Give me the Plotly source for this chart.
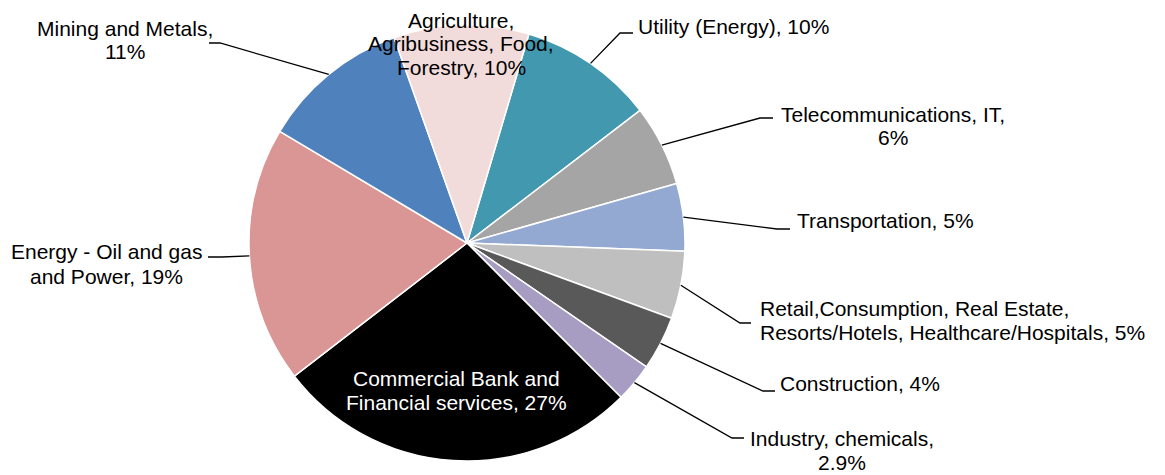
import math
import plotly.graph_objects as go

# ---- data ----
sectors = [
    "Utility (Energy)",
    "Telecommunications, IT",
    "Transportation",
    "Retail,Consumption, Real Estate, Resorts/Hotels, Healthcare/Hospitals",
    "Construction",
    "Industry, chemicals",
    "Commercial Bank and Financial services",
    "Energy - Oil and gas and Power",
    "Mining and Metals",
    "Agriculture, Agribusiness, Food, Forestry",
]
shares = [10, 6, 5, 5, 4, 2.9, 27, 19, 11, 10]
label_texts = [
    "Utility (Energy), 10%",
    "Telecommunications, IT,<br>6%",
    "Transportation, 5%",
    "Retail,Consumption, Real Estate,<br>Resorts/Hotels, Healthcare/Hospitals, 5%",
    "Construction, 4%",
    "Industry, chemicals,<br>2.9%",
    "Commercial Bank and<br>Financial services, 27%",
    "Energy - Oil and gas<br>and Power, 19%",
    "Mining and Metals,<br>11%",
    "Agriculture,<br>Agribusiness, Food,<br>Forestry, 10%",
]

# ---- styles / layout ----
colors = ["#4198AF", "#A5A5A5", "#93A9D1", "#BFBFBF", "#595959",
          "#A79CC1", "#000000", "#D99694", "#4F81BD", "#F2DCDB"]
W, H = 1165, 475
OFF = 8  # page body margin
CX, CY, R = 467, 243, 218
ROT = 16.5
FONT = "Liberation Sans, Arial, sans-serif"
FS = 21

# label placement in pixels: (x, y, xanchor, color, line spacing, elbow, end)
placements = [
    (733, 26, "center", "black", 24, (620, 33), (633, 33)),
    (893, 126, "center", "black", 24, (760, 118), (773, 118)),
    (885, 220, "center", "black", 24, (777, 229), (790, 229)),
    (758, 320, "left", "black", 24, (740, 323), (751, 323)),
    (860, 383, "center", "black", 24, (763, 391), (775, 391)),
    (842, 450, "center", "black", 24, (732, 438), (744, 438)),
    (456, 390, "center", "white", 24, None, None),
    (107, 264, "center", "black", 24, (222, 257), (208, 257)),
    (125, 40, "center", "black", 24, (220, 43), (209, 43)),
    (461, 44, "center", "black", 23.5, None, None),
]


def px(x):
    return (x - OFF) / W


def py(y):
    return 1 - (y - OFF) / H


fig = go.Figure(go.Pie(
    labels=sectors,
    values=shares,
    sort=False,
    direction="clockwise",
    rotation=ROT,
    textinfo="none",
    hoverinfo="label+percent",
    marker=dict(colors=colors, line=dict(color="white", width=1.5)),
    domain=dict(x=[px(CX - R), px(CX + R)], y=[py(CY + R), py(CY - R)]),
    showlegend=False,
))

total = sum(shares)
cum = 0.0
annotations = []
shapes = []
for i, v in enumerate(shares):
    mid = ROT + (cum + v / 2) / total * 360.0
    cum += v
    a = math.radians(mid)
    ex, ey = CX + R * math.sin(a), CY - R * math.cos(a)
    x, y, xa, col, ls, elbow, end = placements[i]
    lines = label_texts[i].split("<br>")
    n = len(lines)
    for j, line in enumerate(lines):
        yy = y + (j - (n - 1) / 2) * ls
        annotations.append(dict(
            x=px(x), y=py(yy), xref="paper", yref="paper",
            xanchor=xa, yanchor="middle", showarrow=False,
            text=line, font=dict(family=FONT, size=FS, color=col),
        ))
    if elbow is not None:
        path = (f"M {px(ex)} {py(ey)} L {px(elbow[0])} {py(elbow[1])} "
                f"L {px(end[0])} {py(end[1])}")
        shapes.append(dict(type="path", path=path, xref="paper", yref="paper",
                           line=dict(color="black", width=1.3)))

fig.update_layout(
    width=W, height=H,
    margin=dict(l=0, r=0, t=0, b=0),
    paper_bgcolor="white", plot_bgcolor="white",
    annotations=annotations, shapes=shapes,
    font=dict(family=FONT),
)

fig.write_html("out.html")
